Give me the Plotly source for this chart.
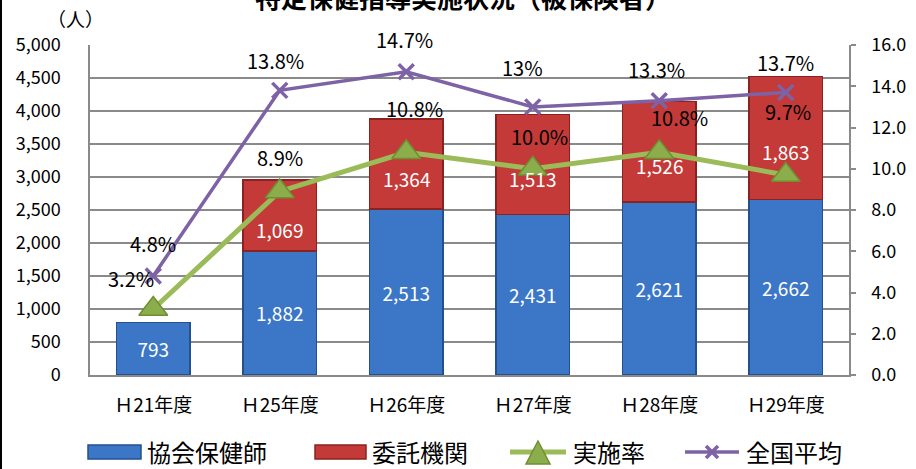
import plotly.graph_objects as go

categories = ["H21年度", "H25年度", "H26年度", "H27年度", "H28年度", "H29年度"]
tick_labels = ["Ｈ21年度", "Ｈ25年度", "Ｈ26年度", "Ｈ27年度", "Ｈ28年度", "Ｈ29年度"]
kyokai = [793, 1882, 2513, 2431, 2621, 2662]
itaku = [None, 1069, 1364, 1513, 1526, 1863]
jisshi = [3.2, 8.9, 10.8, 10.0, 10.8, 9.7]
jisshi_text = ["3.2%", "8.9%", "10.8%", "10.0%", "10.8%", "9.7%"]
zenkoku = [4.8, 13.8, 14.7, 13.0, 13.3, 13.7]
zenkoku_text = ["4.8%", "13.8%", "14.7%", "13%", "13.3%", "13.7%"]
legend_names = ["協会保健師", "委託機関", "実施率", "全国平均"]

# label offsets (pixels) for the percentage labels, as placed in the original
jisshi_off = [(-22, 31), (0, 34), (8, 44), (7, 32), (20, 35), (2, 63)]
zenkoku_off = [(0, 33), (-4, 30), (-2, 32), (-10, 39), (-3, 31), (0, 30)]

FONT = "Noto Sans CJK JP"
BLUE = "#3b77c6"
BLUE_EDGE = "#24508e"
RED = "#c33a38"
RED_EDGE = "#8a2320"
GREEN = "#9bbb59"
GREEN_FILL = "#8cad4c"
GREEN_DARK = "#6f8f32"
PURPLE = "#7e62a6"
GRID = "#8a8a8a"

# plot area geometry in pixels
L, R, T, B = 90, 67, 45, 94
W, H = 916, 469
PW, PH = W - L - R, H - T - B


def px(x):
    return (x - L) / PW


def py(y):
    return (H - B - y) / PH


fig = go.Figure()
fig.add_trace(go.Bar(
    x=categories, y=kyokai, name=legend_names[0], showlegend=False,
    marker=dict(color=BLUE, line=dict(color=BLUE_EDGE, width=1.5)),
    text=[f"{v:,}" for v in kyokai], textposition="inside", insidetextanchor="middle",
    textfont=dict(color="white", size=19, family=FONT),
))
fig.add_trace(go.Bar(
    x=categories, y=itaku, name=legend_names[1], showlegend=False,
    marker=dict(color=RED, line=dict(color=RED_EDGE, width=1.5)),
    textposition="none",
))
fig.add_trace(go.Scatter(
    x=categories, y=jisshi, name=legend_names[2], yaxis="y2", mode="lines+markers", showlegend=False,
    line=dict(color=GREEN, width=5),
    marker=dict(symbol="triangle-up", size=25, color=GREEN_FILL, line=dict(color=GREEN_DARK, width=1.5)),
))
fig.add_trace(go.Scatter(
    x=categories, y=zenkoku, name=legend_names[3], yaxis="y2", mode="lines+markers", showlegend=False,
    line=dict(color=PURPLE, width=3.5),
    marker=dict(symbol="x-thin", size=15, color=PURPLE, line=dict(color=PURPLE, width=3.5)),
))

ann = []
for c, b, r in zip(categories, kyokai, itaku):
    if r:
        ann.append(dict(x=c, y=b + r / 2, xref="x", yref="y", text=f"{r:,}", showarrow=False,
                        yshift=-14, font=dict(color="white", size=19, family=FONT)))
for c, v, t, (dx, dy) in zip(categories, jisshi, jisshi_text, jisshi_off):
    ann.append(dict(x=c, y=v, xref="x", yref="y2", text=t, showarrow=False,
                    xshift=dx, yshift=dy, font=dict(color="black", size=20, family=FONT)))
for c, v, t, (dx, dy) in zip(categories, zenkoku, zenkoku_text, zenkoku_off):
    ann.append(dict(x=c, y=v, xref="x", yref="y2", text=t, showarrow=False,
                    xshift=dx, yshift=dy, font=dict(color="black", size=20, family=FONT)))
ann.append(dict(x=px(75), y=py(18), xref="paper", yref="paper", text="（人）", showarrow=False,
                xanchor="center", yanchor="middle", font=dict(color="black", size=19, family=FONT)))
ann.append(dict(x=px(463), y=py(-4), xref="paper", yref="paper",
                text="<b>特定保健指導実施状況（被保険者）</b>",
                showarrow=False, xanchor="center", yanchor="middle",
                font=dict(color="black", size=26, family=FONT)))

# custom legend (wide bar swatches as in the original)
LY = 451
shapes = []
shapes.append(dict(type="rect", xref="paper", yref="paper", x0=px(88), x1=px(141),
                   y0=py(LY + 8), y1=py(LY - 6), fillcolor=BLUE, line=dict(color=BLUE_EDGE, width=1.5)))
shapes.append(dict(type="rect", xref="paper", yref="paper", x0=px(315), x1=px(366),
                   y0=py(LY + 8), y1=py(LY - 6), fillcolor=RED, line=dict(color=RED_EDGE, width=1.5)))
shapes.append(dict(type="line", xref="paper", yref="paper", x0=px(510), x1=px(566),
                   y0=py(LY + 1), y1=py(LY + 1), line=dict(color=GREEN, width=5)))
shapes.append(dict(type="path", xref="paper", yref="paper", xsizemode="pixel", ysizemode="pixel",
                   xanchor=px(538), yanchor=py(LY + 3), path="M -12,-10 L 12,-10 L 0,13 Z",
                   fillcolor=GREEN_FILL, line=dict(color=GREEN_DARK, width=1.5)))
shapes.append(dict(type="line", xref="paper", yref="paper", x0=px(685), x1=px(739),
                   y0=py(LY + 1), y1=py(LY + 1), line=dict(color=PURPLE, width=3.5)))
for a, b in [((-6, -6), (6, 6)), ((-6, 6), (6, -6))]:
    shapes.append(dict(type="line", xref="paper", yref="paper", xsizemode="pixel", ysizemode="pixel",
                       xanchor=px(712), yanchor=py(LY + 1), x0=a[0], y0=a[1], x1=b[0], y1=b[1],
                       line=dict(color=PURPLE, width=3.5)))
for name, x in zip(legend_names, [145, 370, 571, 744]):
    ann.append(dict(x=px(x), y=py(LY), xref="paper", yref="paper", text=name, showarrow=False,
                    xanchor="left", yanchor="middle", font=dict(color="black", size=24, family=FONT)))
# thin black frame edge on the left of the picture
shapes.append(dict(type="line", xref="paper", yref="paper", x0=px(1), x1=px(1), y0=py(475), y1=py(-5),
                   line=dict(color="black", width=2)))

fig.update_layout(
    width=W, height=H,
    margin=dict(l=L, r=R, t=T, b=B, autoexpand=False),
    paper_bgcolor="white", plot_bgcolor="white",
    barmode="stack", bargap=0.42,
    font=dict(family=FONT, size=18, color="black"),
    showlegend=False,
    xaxis=dict(tickvals=categories, ticktext=tick_labels, showline=True, linecolor=GRID,
               linewidth=1.5, ticks="", tickfont=dict(size=19), ticklabelstandoff=12),
    yaxis=dict(range=[0, 5000], dtick=500, tickformat=",d", showgrid=True, gridcolor=GRID,
               gridwidth=1.6, showline=True, linecolor=GRID, linewidth=1.5,
               ticks="", tickfont=dict(size=18), zeroline=False, ticklabelstandoff=24),
    yaxis2=dict(range=[0, 16], dtick=2, tickformat=".1f", overlaying="y", side="right",
                showgrid=False, showline=True, linecolor=GRID, linewidth=1.5,
                ticks="outside", ticklen=5, tickcolor=GRID, tickwidth=1.5, tickfont=dict(size=18),
                zeroline=False, ticklabelstandoff=12),
    annotations=ann,
    shapes=shapes,
)
fig.write_html("out.html", config={"displayModeBar": False},
               post_script="document.body.style.margin='0';document.body.style.overflow='hidden';")
